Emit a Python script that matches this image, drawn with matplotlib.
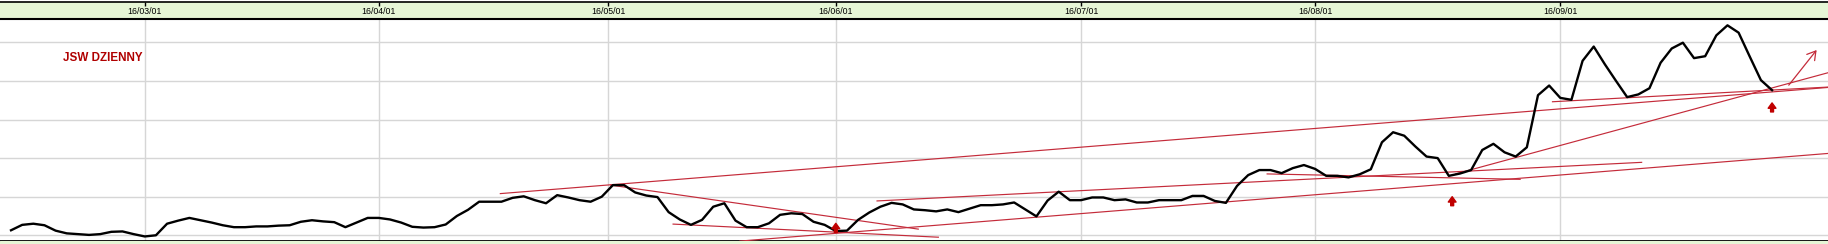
import numpy as np
import matplotlib.pyplot as plt

# JSW - dzienne zamkniecia (odczyt z wykresu, kolejne sesje)
close = [11.3, 12.7, 13.0, 12.6, 11.2, 10.5, 10.3, 10.1, 10.3, 10.9,
         11.0, 10.3, 9.7, 10.0, 13.0, 13.8, 14.5, 13.9, 13.3, 12.6,
         12.1, 12.1, 12.3, 12.3, 12.5, 12.6, 13.5, 13.9, 13.6, 13.4,
         12.1, 13.3, 14.5, 14.5, 14.1, 13.3, 12.2, 12.0, 12.1, 12.8,
         15.0, 16.6, 18.7, 18.7, 18.7, 19.7, 20.1, 19.1, 18.3, 20.4,
         19.8, 19.1, 18.7, 20.0, 23.0, 23.0, 21.1, 20.3, 19.9, 16.0,
         14.1, 12.7, 14.0, 17.4, 18.3, 13.8, 12.1, 12.1, 13.1, 15.3,
         15.7, 15.5, 13.5, 12.7, 11.1, 11.2, 14.0, 15.9, 17.4, 18.4,
         18.0, 16.7, 16.5, 16.2, 16.7, 16.0, 16.9, 17.8, 17.8, 18.0,
         18.5, 16.7, 14.9, 19.0, 21.3, 19.1, 19.1, 19.8, 19.8, 19.1,
         19.3, 18.5, 18.5, 19.1, 19.1, 19.1, 20.2, 20.2, 18.9, 18.4,
         22.8, 25.6, 26.9, 26.9, 26.1, 27.4, 28.2, 27.2, 25.4, 25.4,
         25.0, 25.8, 27.1, 34.1, 36.7, 35.8, 33.0, 30.4, 30.0, 25.4,
         26.0, 26.9, 32.1, 33.7, 31.5, 30.4, 32.8, 46.3, 48.8, 45.6,
         45.1, 55.2, 58.9, 54.3, 50.0, 45.8, 46.5, 48.1, 54.7, 58.4,
         59.9, 55.9, 56.4, 61.8, 64.4, 62.5, 56.3, 50.2, 47.6]

month_pos = [12, 33, 53.6, 74, 96, 117, 139]
month_lab = ["16/03/01", "16/04/01", "16/05/01", "16/06/01",
             "16/07/01", "16/08/01", "16/09/01"]

# linie trendu (x0, y0, x1, y1) w jednostkach wykresu
trend_lines = [(43.9, 20.8, 163.0, 48.3),
               (138.3, 44.6, 163.0, 48.4),
               (129.6, 25.9, 163.0, 52.1),
               (112.7, 25.9, 135.4, 24.5),
               (77.7, 18.9, 146.3, 28.9),
               (65.4, 8.5, 163.0, 31.2),
               (53.8, 23.0, 81.4, 11.6),
               (59.4, 12.9, 83.2, 9.5)]

signal_x = [74, 129.3, 158]      # sygnaly kupna (strzalki)
signal_y = [13.1, 20.0, 44.3]

W, H = 1828, 244
fig = plt.figure(figsize=(W / 100, H / 100), dpi=100)
fig.patch.set_facecolor("white")

green = "#e6f6d6"
grid_c = "#d6d6d6"
red = "#c42b3a"

# glowny panel
ax = fig.add_axes([0, (H - 241) / H, 1, (241 - 19) / H])
x = np.arange(len(close))
ax.set_xlim(-0.99, 163.02)
ax.set_ylim(8.52, 66.04)
ax.set_yticks([10, 20, 30, 40, 50, 60])
ax.set_xticks(month_pos)
ax.grid(True, color=grid_c, lw=1)
ax.tick_params(left=False, bottom=False, labelleft=False, labelbottom=False)
for s in ["left", "right", "top"]:
    ax.spines[s].set_visible(False)
ax.spines["bottom"].set_linewidth(2)
ax.spines["bottom"].set_color("black")

for x0, y0, x1, y1 in trend_lines:
    ax.plot([x0, x1], [y0, y1], color=red, lw=0.85, zorder=3)

ax.plot(x, close, color="black", lw=1.7, zorder=4)

for sx, sy in zip(signal_x, signal_y):
    ax.annotate("", xy=(sx, sy), xytext=(0, -6.5), textcoords="offset points",
                arrowprops=dict(arrowstyle="simple,head_width=0.8,head_length=0.55,tail_width=0.3",
                                color="#c00000", mutation_scale=7, shrinkA=0, shrinkB=0),
                zorder=5)

ax.annotate("", xy=(162.0, 58.0), xytext=(159.5, 48.9),
            arrowprops=dict(arrowstyle="->,head_length=0.5,head_width=0.3",
                            color=red, lw=0.9, mutation_scale=12,
                            shrinkA=0, shrinkB=0), zorder=5)

ax.text(63 / W, 0.824, "JSW DZIENNY", transform=ax.transAxes,
        ha="left", va="center", color="#b00000", fontsize=8.4,
        fontweight="bold", family=["Liberation Sans", "DejaVu Sans"])

# gorny pasek z datami
top = fig.add_axes([0, (H - 19) / H, 1, (19 - 2) / H], sharex=ax)
top.set_facecolor(green)
top.set_ylim(0, 1)
top.tick_params(top=True, bottom=False, left=False, direction="in",
                length=3, width=1, labeltop=False, labelbottom=False,
                labelleft=False)
for s in ["left", "right"]:
    top.spines[s].set_visible(False)
top.spines["top"].set_linewidth(1.2)
top.spines["bottom"].set_linewidth(1.5)
for p, lab in zip(month_pos, month_lab):
    top.text(p, 0.42, lab, ha="center", va="center", fontsize=6.3,
             family=["Liberation Sans", "DejaVu Sans"])

# dolny pasek
bot = fig.add_axes([0, 0, 1, 3 / H])
bot.set_facecolor(green)
bot.set_axis_off()
bot.add_patch(plt.Rectangle((0, 0), 1, 1, color=green, transform=bot.transAxes))

fig.savefig("out.png", dpi=100, facecolor="white")
